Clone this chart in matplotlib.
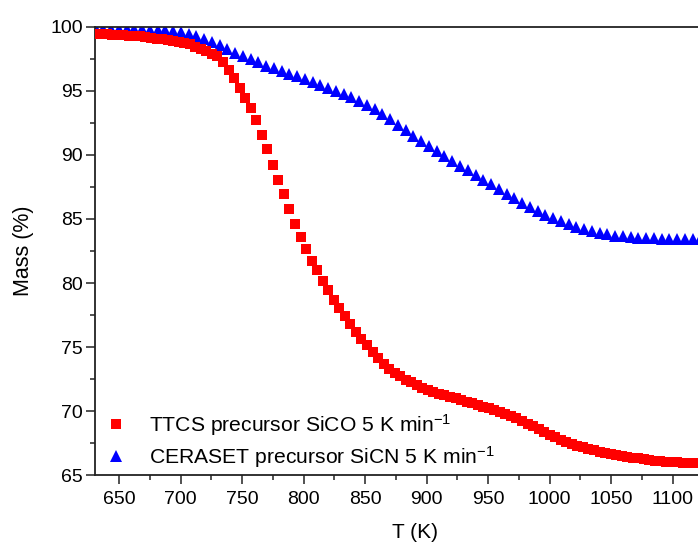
import matplotlib
matplotlib.use("Agg")
import matplotlib.pyplot as plt
from matplotlib.ticker import MultipleLocator

# ---- data ----
ttcs_T = [631, 635.5, 640, 644.5, 649, 653.5, 658, 662.5, 667, 671.5,
          676, 680.5, 685, 689.5, 694, 698.5, 703, 707.5, 712, 716.5,
          721, 725.5, 730, 734.5, 739, 743.5, 748, 752.5, 757, 761.5,
          766, 770.5, 775, 779.5, 784, 788.5, 793, 797.5, 802, 806.5,
          811, 815.5, 820, 824.5, 829, 833.5, 838, 842.5, 847, 851.5,
          856, 860.5, 865, 869.5, 874, 878.5, 883, 887.5, 892, 896.5,
          901, 905.5, 910, 914.5, 919, 923.5, 928, 932.5, 937, 941.5,
          946, 950.5, 955, 959.5, 964, 968.5, 973, 977.5, 982, 986.5,
          991, 995.5, 1000, 1004.5, 1009, 1013.5, 1018, 1022.5, 1027, 1031.5,
          1036, 1040.5, 1045, 1049.5, 1054, 1058.5, 1063, 1067.5, 1072, 1076.5,
          1081, 1085.5, 1090, 1094.5, 1099, 1103.5, 1108, 1112.5, 1117, 1121.5,
          1126]
ttcs_mass = [99.45, 99.43, 99.42, 99.40, 99.38, 99.36, 99.33, 99.30, 99.26, 99.21,
             99.16, 99.10, 99.04, 98.98, 98.92, 98.86, 98.77, 98.64, 98.47, 98.30,
             98.12, 97.90, 97.74, 97.27, 96.66, 95.98, 95.22, 94.45, 93.68, 92.72,
             91.56, 90.47, 89.25, 88.05, 86.93, 85.75, 84.60, 83.62, 82.66, 81.75,
             81.03, 80.18, 79.42, 78.69, 78.07, 77.45, 76.81, 76.21, 75.62, 75.13,
             74.62, 74.14, 73.70, 73.30, 72.98, 72.72, 72.46, 72.23, 72.02, 71.83,
             71.66, 71.50, 71.36, 71.23, 71.10, 70.98, 70.86, 70.73, 70.60, 70.47,
             70.35, 70.22, 70.09, 69.95, 69.79, 69.61, 69.43, 69.23, 69.02, 68.80,
             68.57, 68.34, 68.11, 67.93, 67.76, 67.60, 67.45, 67.30, 67.17, 67.05,
             66.93, 66.83, 66.74, 66.65, 66.57, 66.50, 66.42, 66.35, 66.29, 66.23,
             66.17, 66.12, 66.08, 66.04, 66.01, 65.98, 65.95, 65.93, 65.91, 65.90,
             65.89]

ceraset_T = [631, 637.3, 643.6, 649.9, 656.2, 662.5, 668.8, 675.1, 681.4, 687.7,
             694, 700.3, 706.6, 712.9, 719.2, 725.5, 731.8, 738.1, 744.4, 750.7,
             757, 763.3, 769.6, 775.9, 782.2, 788.5, 794.8, 801.1, 807.4, 813.7,
             820, 826.3, 832.6, 838.9, 845.2, 851.5, 857.8, 864.1, 870.4, 876.7,
             883, 889.3, 895.6, 901.9, 908.2, 914.5, 920.8, 927.1, 933.4, 939.7,
             946, 952.3, 958.6, 964.9, 971.2, 977.5, 983.8, 990.1, 996.4, 1002.7,
             1009, 1015.3, 1021.6, 1027.9, 1034.2, 1040.5, 1046.8, 1053.1, 1059.4, 1065.7,
             1072, 1078.3, 1084.6, 1090.9, 1097.2, 1103.5, 1109.8, 1116.1, 1122.4]
ceraset_mass = [99.87, 99.86, 99.86, 99.85, 99.84, 99.83, 99.81, 99.79, 99.77, 99.74,
                99.69, 99.60, 99.48, 99.33, 99.10, 98.85, 98.57, 98.30, 98.00, 97.72,
                97.47, 97.23, 96.99, 96.78, 96.55, 96.33, 96.15, 95.93, 95.72, 95.50,
                95.24, 95.00, 94.78, 94.52, 94.24, 93.92, 93.58, 93.18, 92.78, 92.38,
                91.95, 91.52, 91.12, 90.72, 90.32, 89.93, 89.55, 89.17, 88.80, 88.43,
                88.07, 87.70, 87.33, 86.97, 86.62, 86.28, 85.95, 85.63, 85.34, 85.07,
                84.82, 84.59, 84.38, 84.20, 84.04, 83.91, 83.80, 83.71, 83.64, 83.58,
                83.54, 83.51, 83.48, 83.46, 83.45, 83.44, 83.43, 83.42, 83.42]

label_ttcs = r"TTCS precursor SiCO 5 K min$^{-1}$"
label_ceraset = r"CERASET precursor SiCN 5 K min$^{-1}$"
x_ticks = [650, 700, 750, 800, 850, 900, 950, 1000, 1050, 1100]
y_ticks = [65, 70, 75, 80, 85, 90, 95, 100]

plt.rcParams['font.family'] = ['Liberation Sans', 'DejaVu Sans']
plt.rcParams['mathtext.fontset'] = 'custom'
plt.rcParams['mathtext.rm'] = 'Liberation Sans'
plt.rcParams['mathtext.it'] = 'Liberation Sans:italic'
plt.rcParams['mathtext.bf'] = 'Liberation Sans:bold'

fig = plt.figure(figsize=(6.98, 5.46), dpi=100)
ax_w = 639.3 / 698
ax = fig.add_axes([95 / 698, 71 / 546, ax_w, 448 / 546])

hb, = ax.plot(ceraset_T, ceraset_mass, linestyle='none', marker='^',
              markersize=8.6, color='#0000FF', markeredgewidth=0,
              label=label_ceraset, zorder=2)
hr, = ax.plot(ttcs_T, ttcs_mass, linestyle='none', marker='s',
              markersize=7.4, color='#FF0000', markeredgewidth=0,
              label=label_ttcs, zorder=3)

ax.set_xlim(630.5, 1150)
ax.set_ylim(65, 100)
ax.set_xticks(x_ticks)
ax.set_yticks(y_ticks)
ax.xaxis.set_minor_locator(MultipleLocator(25))
ax.yaxis.set_minor_locator(MultipleLocator(2.5))
ax.tick_params(axis='both', which='major', direction='out', length=6.5,
               width=1.1, labelsize=14, color='#222222', pad=2)
ax.tick_params(axis='both', which='minor', direction='out', length=3.6,
               width=1.1, color='#222222')
ax.tick_params(axis='x', which='major', pad=5)
ax.tick_params(top=False, right=False, which='both')

for side in ['left', 'bottom', 'top', 'right']:
    ax.spines[side].set_linewidth(1.3)
    ax.spines[side].set_color('#222222')

ax.set_xlabel("T (K)", fontsize=15, labelpad=11)
ax.set_ylabel("Mass (%)", fontsize=15.5, labelpad=12)

leg = ax.legend(handles=[hr, hb], loc='lower left',
                bbox_to_anchor=(0.0, -0.014), frameon=False, fontsize=15.2,
                handlelength=0.9, handletextpad=1.1, labelspacing=0.28,
                borderaxespad=0.15, markerscale=0.95)

fig.savefig("out.png", dpi=100)
